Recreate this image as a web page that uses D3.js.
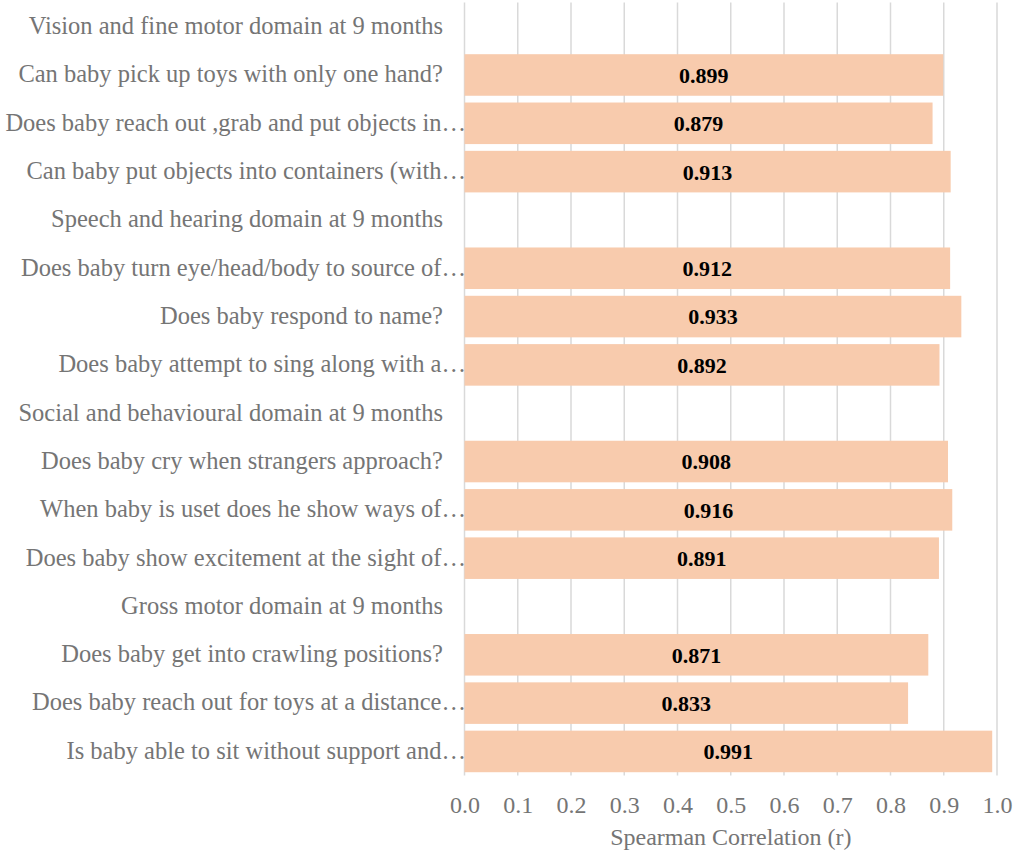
<!DOCTYPE html>
<html>
<head>
<meta charset="utf-8">
<script src="https://cdn.jsdelivr.net/npm/d3@7"></script>
<style>
  body { margin: 0; background: #fff; }
  text { font-family: "Liberation Serif", "Times New Roman", serif; }
</style>
</head>
<body>
<script>
// row labels, top to bottom (domain headers have no value)
var labels = [
  "Vision and fine motor domain at 9 months",
  "Can baby pick up toys with only one hand?",
  "Does baby reach out ,grab and put objects in\u2026",
  "Can baby put objects into containers (with\u2026",
  "Speech and hearing domain at 9 months",
  "Does baby turn eye/head/body to source of\u2026",
  "Does baby respond to name?",
  "Does baby attempt to sing along with a\u2026",
  "Social and behavioural domain at 9 months",
  "Does baby cry when strangers approach?",
  "When baby is uset does he show ways of\u2026",
  "Does baby show excitement at the sight of\u2026",
  "Gross motor domain at 9 months",
  "Does baby get into crawling positions?",
  "Does baby reach out for toys at a distance\u2026",
  "Is baby able to sit without support and\u2026"
];
var values = [null, 0.899, 0.879, 0.913, null, 0.912, 0.933, 0.892,
              null, 0.908, 0.916, 0.891, null, 0.871, 0.833, 0.991];
var xTicks = [0, 0.1, 0.2, 0.3, 0.4, 0.5, 0.6, 0.7, 0.8, 0.9, 1.0];
var xTitle = "Spearman Correlation (r)";

var W = 1013, H = 856;
var x0 = 464.5, x1 = 997, y0 = 2.5, y1 = 775.6;

var svg = d3.select("body").append("svg")
  .attr("width", W)
  .attr("height", H);

var xScale = d3.scaleLinear().domain([0, 1]).range([x0, x1]);
var yScale = d3.scaleBand()
  .domain(d3.range(labels.length))
  .range([y0, y1])
  .paddingInner(0.14)
  .paddingOuter(0.07);

// gridlines
svg.append("g").selectAll("line")
  .data(xTicks)
  .enter().append("line")
  .attr("x1", function(d) { return xScale(d); })
  .attr("x2", function(d) { return xScale(d); })
  .attr("y1", y0)
  .attr("y2", y1)
  .attr("stroke", "#d9d9d9")
  .attr("stroke-width", 1.5);

// bars
var rows = labels.map(function(l, i) { return {label: l, value: values[i], i: i}; });
var withVal = rows.filter(function(d) { return d.value !== null; });

svg.append("g").selectAll("rect")
  .data(withVal)
  .enter().append("rect")
  .attr("x", xScale(0))
  .attr("y", function(d) { return yScale(d.i); })
  .attr("width", function(d) { return xScale(d.value) - xScale(0); })
  .attr("height", yScale.bandwidth())
  .attr("fill", "#f8cbad");

// value labels in the middle of each bar
svg.append("g").selectAll("text")
  .data(withVal)
  .enter().append("text")
  .attr("x", function(d) { return (xScale(0) + xScale(d.value)) / 2; })
  .attr("y", function(d) { return yScale(d.i) + yScale.bandwidth() / 2; })
  .attr("dy", "0.36em")
  .attr("text-anchor", "middle")
  .attr("font-size", 22)
  .attr("font-weight", "bold")
  .attr("fill", "#000")
  .text(function(d) { return d.value.toFixed(3); });

// category labels (truncated ones spill the ellipsis past the gap)
svg.append("g").selectAll("text")
  .data(rows)
  .enter().append("text")
  .attr("x", function(d) { return /\u2026$/.test(d.label) ? 466 : 443; })
  .attr("y", function(d) { return yScale(d.i) + yScale.bandwidth() / 2; })
  .attr("dy", "0.3em")
  .attr("text-anchor", "end")
  .attr("font-size", 24.5)
  .attr("fill", "#757575")
  .text(function(d) { return d.label; });

// x axis
var xAxis = d3.axisBottom(xScale)
  .tickValues(xTicks)
  .tickFormat(d3.format(".1f"))
  .tickSize(0)
  .tickPadding(0);
var gx = svg.append("g")
  .attr("transform", "translate(0,813)")
  .call(xAxis);
gx.select(".domain").remove();
gx.selectAll("text")
  .attr("dy", 0)
  .attr("y", 0)
  .attr("font-size", 24)
  .attr("fill", "#757575")
  .style("font-family", "'Liberation Serif', 'Times New Roman', serif");

svg.append("text")
  .attr("x", (x0 + x1) / 2)
  .attr("y", 845)
  .attr("text-anchor", "middle")
  .attr("font-size", 24)
  .attr("fill", "#757575")
  .text(xTitle);
</script>
</body>
</html>
